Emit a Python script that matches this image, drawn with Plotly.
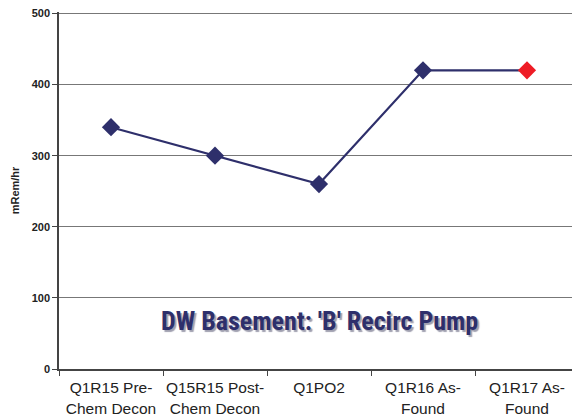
import plotly.graph_objects as go

categories = ["Q1R15 Pre-<br>Chem Decon", "Q15R15 Post-<br>Chem Decon", "Q1PO2",
              "Q1R16 As-<br>Found", "Q1R17 As-<br>Found"]
values = [340, 300, 260, 420, 420]
marker_colors = ["#2E2F6B", "#2E2F6B", "#2E2F6B", "#2E2F6B", "#EE1C25"]
y_ticks = [0, 100, 200, 300, 400, 500]
title_text = "DW Basement: 'B' Recirc Pump"

fig = go.Figure()
fig.add_trace(go.Scatter(
    x=categories, y=values, mode="lines+markers",
    line=dict(color="#2E2F6B", width=2.2),
    marker=dict(symbol="diamond", size=14, color=marker_colors,
                line=dict(width=0)),
    showlegend=False, cliponaxis=False,
))

fig.add_annotation(x=0.5, y=0.135, xref="paper", yref="paper", yanchor="middle",
                   text="<b>" + title_text + "</b>", showarrow=False,
                   font=dict(family="Roboto Condensed, Liberation Sans Narrow, Liberation Sans",
                             size=26, color="#2E2F6B", shadow="2px 2px 1px #A0A0B0"))

fig.update_layout(
    width=572, height=409,
    margin=dict(l=51, r=1, t=4, b=48),
    paper_bgcolor="white", plot_bgcolor="white",
    font=dict(family="Liberation Sans, Arial", color="#222222"),
    xaxis=dict(
        type="category", tickson="boundaries", ticks="outside", ticklen=5,
        tickcolor="#444444", showline=True, linecolor="#444444", linewidth=1.5,
        showgrid=False, tickfont=dict(size=15.5, color="#222222"),
        tickangle=0, automargin=False, ticklabelstandoff=4,
        range=[-0.5, 4.5],
    ),
    yaxis=dict(
        range=[0, 502], tickvals=y_ticks, ticks="outside", ticklen=5,
        tickcolor="#444444", showline=True, linecolor="#444444", linewidth=1.5,
        showgrid=True, gridcolor="#777777", gridwidth=1,
        tickfont=dict(size=11, color="#222222", weight="bold"),
        ticklabeloverflow="allow", automargin=False,
        title=dict(text="<b>mRem/hr</b>", font=dict(size=11, color="#222222"), standoff=10),
        zeroline=False,
    ),
)

fig.write_html("out.html")
